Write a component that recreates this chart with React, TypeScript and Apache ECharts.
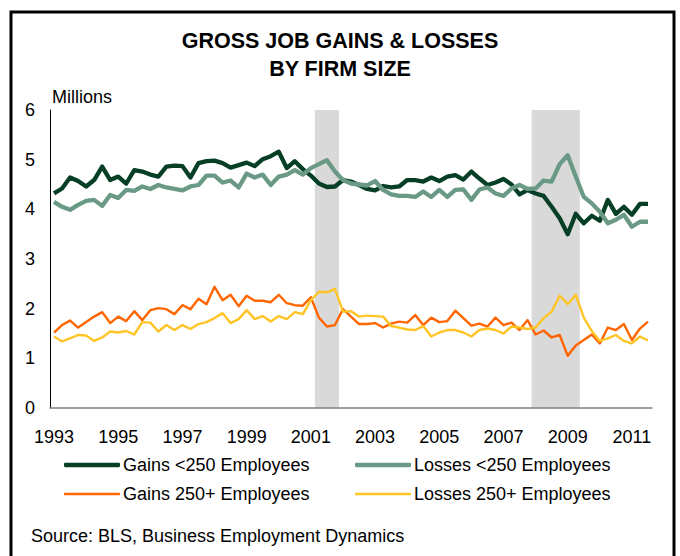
import React, { useEffect, useRef } from "react";
import * as echarts from "echarts";

const startYear = 1993;
const quarterCount = 75;
const quarters: string[] = Array.from({ length: quarterCount }, (_, i) => `${startYear + Math.floor(i / 4)} Q${(i % 4) + 1}`);

const gainsSmall = [
  4.32, 4.42, 4.64, 4.57, 4.46, 4.59, 4.86, 4.59, 4.66, 4.52,
  4.79, 4.76, 4.70, 4.66, 4.86, 4.88, 4.87, 4.64, 4.93, 4.97,
  4.98, 4.93, 4.84, 4.89, 4.94, 4.87, 5.01, 5.07, 5.16, 4.83,
  4.97, 4.81, 4.68, 4.52, 4.45, 4.46, 4.59, 4.56, 4.49, 4.41,
  4.38, 4.47, 4.44, 4.46, 4.59, 4.59, 4.56, 4.64, 4.57, 4.66,
  4.69, 4.60, 4.76, 4.62, 4.49, 4.54, 4.61, 4.50, 4.30, 4.39,
  4.32, 4.27, 4.05, 3.82, 3.50, 3.91, 3.72, 3.87, 3.77, 4.19,
  3.91, 4.05, 3.89, 4.11, 4.11,
];

const lossesSmall = [
  4.15, 4.05, 3.99, 4.09, 4.17, 4.19, 4.07, 4.29, 4.23, 4.39,
  4.37, 4.46, 4.41, 4.49, 4.44, 4.41, 4.38, 4.46, 4.49, 4.68,
  4.68, 4.54, 4.58, 4.44, 4.72, 4.64, 4.70, 4.49, 4.66, 4.70,
  4.79, 4.70, 4.83, 4.91, 4.99, 4.76, 4.59, 4.52, 4.50, 4.48,
  4.57, 4.39, 4.30, 4.27, 4.27, 4.25, 4.36, 4.25, 4.39, 4.25,
  4.39, 4.40, 4.19, 4.40, 4.44, 4.32, 4.27, 4.42, 4.49, 4.41,
  4.42, 4.58, 4.56, 4.91, 5.09, 4.66, 4.25, 4.12, 3.95, 3.72,
  3.79, 3.89, 3.65, 3.75, 3.75,
];

const gainsLarge = [
  1.52, 1.67, 1.76, 1.62, 1.73, 1.84, 1.93, 1.71, 1.84, 1.75,
  1.95, 1.77, 1.97, 2.01, 1.99, 1.89, 2.07, 1.99, 2.20, 2.09,
  2.44, 2.17, 2.28, 2.05, 2.26, 2.16, 2.16, 2.13, 2.28, 2.11,
  2.07, 2.06, 2.23, 1.82, 1.64, 1.67, 1.99, 1.84, 1.69, 1.69,
  1.71, 1.62, 1.70, 1.74, 1.72, 1.87, 1.67, 1.82, 1.73, 1.75,
  1.96, 1.81, 1.66, 1.70, 1.64, 1.82, 1.67, 1.72, 1.57, 1.77,
  1.48, 1.56, 1.42, 1.47, 1.05, 1.26, 1.37, 1.48, 1.30, 1.62,
  1.57, 1.69, 1.37, 1.60, 1.74,
];

const lossesLarge = [
  1.44, 1.34, 1.40, 1.47, 1.46, 1.35, 1.42, 1.54, 1.52, 1.55,
  1.48, 1.73, 1.72, 1.54, 1.67, 1.57, 1.67, 1.59, 1.69, 1.73,
  1.81, 1.91, 1.71, 1.79, 1.97, 1.79, 1.85, 1.74, 1.85, 1.79,
  1.93, 1.89, 2.17, 2.34, 2.33, 2.40, 1.94, 1.95, 1.84, 1.86,
  1.85, 1.84, 1.65, 1.62, 1.58, 1.57, 1.65, 1.44, 1.52, 1.57,
  1.57, 1.52, 1.44, 1.57, 1.60, 1.57, 1.50, 1.64, 1.62, 1.59,
  1.62, 1.81, 1.94, 2.26, 2.09, 2.28, 1.82, 1.55, 1.35, 1.40,
  1.47, 1.35, 1.30, 1.44, 1.36,
];

// Recessions: first and last quarter shaded
const recessions = [
  ["2001 Q2", "2001 Q4"],
  ["2008 Q1", "2009 Q2"],
];

const seriesNames = ["Gains <250 Employees", "Losses <250 Employees", "Gains 250+ Employees", "Losses 250+ Employees"];
const seriesColors = ["#063F26", "#6A9A85", "#FF6600", "#FFC425"];
const seriesWidths = [4.3, 4.3, 2.4, 2.4];

const FONT = "Liberation Sans, Arial, sans-serif";
const FS = 18;

export default function App() {
  const ref = useRef<HTMLDivElement>(null);

  useEffect(() => {
    if (!ref.current) return;
    const chart = echarts.init(ref.current, undefined, { renderer: "svg" });
    const seriesData = [gainsSmall, lossesSmall, gainsLarge, lossesLarge];
    const areas = recessions.map(([a, b]) => [
      { xAxis: quarters.indexOf(a) },
      { xAxis: quarters.indexOf(b) + 1 },
    ]);

    const legendPos = [
      { left: 59, top: 451 },
      { left: 350, top: 451 },
      { left: 59, top: 480 },
      { left: 350, top: 480 },
    ];

    chart.setOption({
      animation: false,
      backgroundColor: "#ffffff",
      textStyle: { fontFamily: FONT },
      title: {
        text: "GROSS JOB GAINS & LOSSES\nBY FIRM SIZE",
        left: "center",
        top: 22,
        textStyle: { fontFamily: FONT, fontSize: 21.5, fontWeight: "bold", color: "#000", lineHeight: 28 },
      },
      grid: { left: 50, right: 28, top: 110, bottom: 148, containLabel: false },
      xAxis: [
        {
          type: "category",
          data: quarters,
          boundaryGap: true,
          axisLine: { show: true, lineStyle: { color: "#808080", width: 1.5 } },
          axisTick: { show: false },
          axisLabel: {
            interval: 7,
            margin: 20,
            fontSize: FS,
            color: "#000",
            fontFamily: FONT,
            formatter: (v: string) => v.split(" ")[0],
          },
          splitLine: { show: false },
          z: 5,
        },
        {
          type: "value",
          min: 0,
          max: quarterCount,
          show: false,
        },
      ],
      yAxis: {
        type: "value",
        min: 0,
        max: 6,
        interval: 1,
        axisLine: { show: true, lineStyle: { color: "#000", width: 1 } },
        axisTick: { show: false },
        axisLabel: { margin: 15, fontSize: FS, color: "#000", fontFamily: FONT },
        splitLine: { show: false },
      },
      legend: seriesNames.map((name, i) => ({
        data: [{ name, icon: "roundRect" }],
        left: legendPos[i].left,
        top: legendPos[i].top,
        itemWidth: 56,
        itemHeight: seriesWidths[i],
        textStyle: { fontSize: FS, color: "#000", fontFamily: FONT, lineHeight: 18, padding: [0, 0, 0, -2] },
      })),
      series: [
        {
          name: "Recession",
          type: "line",
          xAxisIndex: 1,
          data: [],
          silent: true,
          z: 1,
          markArea: {
            silent: true,
            itemStyle: { color: "#D9D9D9", opacity: 1 },
            data: areas,
          },
        },
        ...seriesNames.map((name, i) => ({
          name,
          type: "line",
          data: seriesData[i],
          symbol: "none",
          color: seriesColors[i],
          lineStyle: { color: seriesColors[i], width: seriesWidths[i], join: "round" },
          z: 2 + i,
        })),
      ],
      graphic: [
        {
          type: "rect",
          shape: { x: 11, y: 12, width: 663, height: 570 },
          style: { fill: "none", stroke: "#000", lineWidth: 3 },
          z: 100,
          silent: true,
        },
        {
          type: "text",
          x: 52,
          y: 88,
          style: { text: "Millions", fontSize: FS, fill: "#000", fontFamily: FONT },
        },
        {
          type: "text",
          x: 31,
          y: 527,
          style: { text: "Source: BLS, Business Employment Dynamics", fontSize: FS, fill: "#000", fontFamily: FONT },
        },
      ],
    });
    return () => chart.dispose();
  }, []);

  return <div ref={ref} style={{ position: "fixed", left: 0, top: 0, width: 680, height: 556 }} />;
}
